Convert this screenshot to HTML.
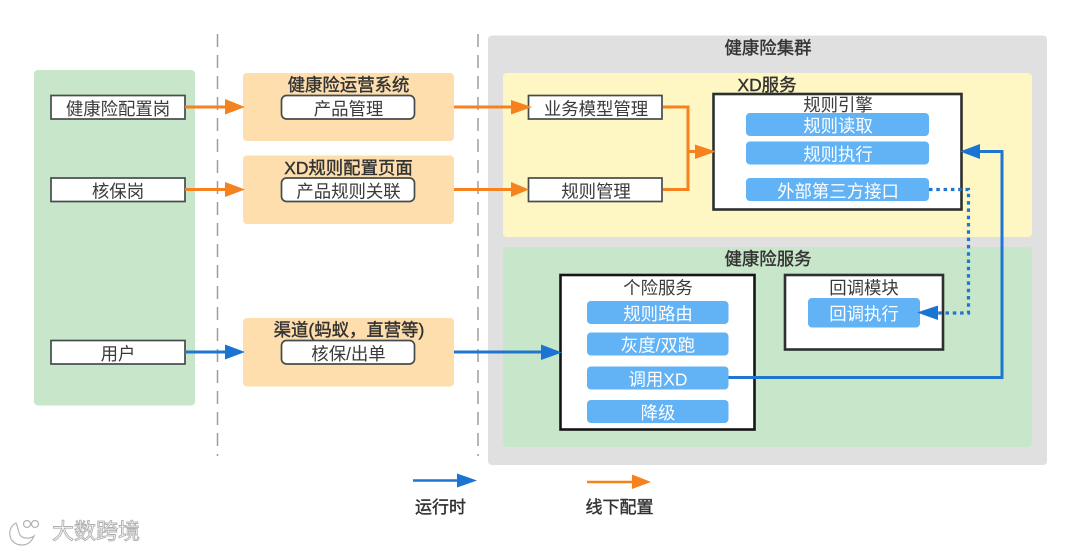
<!DOCTYPE html>
<html lang="zh">
<head>
<meta charset="utf-8">
<style>
html,body{margin:0;padding:0;background:#fff;width:1080px;height:552px;overflow:hidden}
svg{display:block}
text{font-family:"Liberation Sans","Noto Sans CJK SC",sans-serif;font-size:17.4px;text-anchor:middle;fill:#3a3a3a}
.t{fill:#333;stroke:#333;stroke-width:.4px}
.w{fill:#fff}
.box{fill:#fff;stroke:#454c4c;stroke-width:1.7}
.big{fill:#fff;stroke:#2b3030;stroke-width:2.6}
.pill{fill:#62b2f6}
.o{stroke:#f5821f;stroke-width:3;fill:none}
.b{stroke:#1e76cf;stroke-width:3;fill:none}
.oh{fill:#f5821f}
.bh{fill:#1a75d2}
</style>
</head>
<body>
<svg width="1080" height="552" viewBox="0 0 1080 552" xmlns="http://www.w3.org/2000/svg">
<rect width="1080" height="552" fill="#fff"/>

<!-- regions -->
<rect x="34" y="70" width="161" height="335.500" rx="4" fill="#c8e6c9"/>
<rect x="243" y="73" width="211" height="68" rx="4" fill="#ffdeae"/>
<rect x="243" y="155.500" width="211" height="68.500" rx="4" fill="#ffdeae"/>
<rect x="243" y="318" width="211" height="68.500" rx="4" fill="#ffdeae"/>
<rect x="488" y="35.500" width="559" height="429.500" rx="4" fill="#e0e0e0"/>
<rect x="503" y="73" width="529" height="164" rx="4" fill="#fff7c3"/>
<rect x="503" y="247" width="529" height="200" rx="4" fill="#c8e6c9"/>

<!-- dashed separators -->
<line x1="217.500" y1="34" x2="217.500" y2="456" stroke="#9e9e9e" stroke-width="1.500" stroke-dasharray="13 8"/>
<line x1="478" y1="34" x2="478" y2="456" stroke="#9e9e9e" stroke-width="1.500" stroke-dasharray="13 8"/>

<!-- left boxes -->
<rect class="box" x="51" y="95.500" width="134" height="23.500"/>
<rect class="box" x="51" y="178" width="134" height="23.500"/>
<rect class="box" x="51" y="340.500" width="134" height="23.500"/>
<text x="118" y="115">健康险配置岗</text>
<text x="118" y="197.500">核保岗</text>
<text x="118" y="360">用户</text>

<!-- middle boxes -->
<rect class="box" x="281.500" y="95.500" width="133" height="23.500" rx="5"/>
<rect class="box" x="281.500" y="178" width="133" height="23.500" rx="5"/>
<rect class="box" x="281.500" y="340.500" width="133" height="23.500" rx="5"/>
<text class="t" x="348.500" y="91">健康险运营系统</text>
<text x="348.500" y="115">产品管理</text>
<text class="t" x="348.500" y="174">XD规则配置页面</text>
<text x="348.500" y="197.500">产品规则关联</text>
<text class="t" x="349" y="336">渠道(蚂蚁，直营等)</text>
<text x="348.500" y="360">核保/出单</text>

<!-- cluster titles -->
<text class="t" x="768" y="54">健康险集群</text>
<text class="t" x="767" y="91">XD服务</text>
<text class="t" x="768" y="265">健康险服务</text>

<!-- XD boxes -->
<rect class="box" x="528.500" y="95.500" width="133.500" height="23.500"/>
<rect class="box" x="528.500" y="178" width="133.500" height="23.500"/>
<text x="596" y="115">业务模型管理</text>
<text x="596" y="197.500">规则管理</text>

<!-- rule engine -->
<rect class="big" x="713.500" y="94" width="248" height="115.500"/>
<text x="838" y="111">规则引擎</text>
<rect class="pill" x="746" y="113" width="183" height="23" rx="4"/>
<rect class="pill" x="746" y="141.500" width="183" height="23" rx="4"/>
<rect class="pill" x="746" y="178" width="183" height="23" rx="4"/>
<text class="w" x="838" y="132">规则读取</text>
<text class="w" x="838" y="160.500">规则执行</text>
<text class="w" x="838" y="197.500">外部第三方接口</text>

<!-- personal service -->
<rect class="big" x="560.500" y="275" width="194" height="154.500" style="stroke:#151515"/>
<text x="658" y="294">个险服务</text>
<rect class="pill" x="587" y="301" width="141.500" height="23" rx="4"/>
<rect class="pill" x="587" y="332.500" width="141.500" height="23" rx="4"/>
<rect class="pill" x="587" y="366.500" width="141.500" height="23" rx="4"/>
<rect class="pill" x="587" y="400" width="141.500" height="23" rx="4"/>
<text class="w" x="658" y="320">规则路由</text>
<text class="w" x="658" y="351.500">灰度/双跑</text>
<text class="w" x="658" y="385.500">调用XD</text>
<text class="w" x="658" y="419">降级</text>

<!-- callback -->
<rect class="big" x="785" y="275" width="158" height="74.500"/>
<text x="864" y="294">回调模块</text>
<rect class="pill" x="808" y="298" width="112" height="29.500" rx="4"/>
<text class="w" x="864" y="320">回调执行</text>

<!-- orange connectors -->
<path class="o" d="M185 107H227"/>
<path class="oh" d="M225 99L245 107L225 114.500Z"/>
<path class="o" d="M185 189.500H227"/>
<path class="oh" d="M225 182L245 189.500L225 197Z"/>
<path class="o" d="M454 107H512"/>
<path class="oh" d="M511 100L532 107L511 114.500Z"/>
<path class="o" d="M454 189.500H512"/>
<path class="oh" d="M511 182L529 189.500L511 197Z"/>
<path class="o" d="M663 107H688V189.500H663M688 151.500H697"/>
<path class="oh" d="M695 144.500L716 151.500L695 159Z"/>

<!-- blue connectors -->
<path class="b" d="M185 352H227"/>
<path class="bh" d="M225 344.500L245 352L225 359.500Z"/>
<path class="b" d="M454 352H544"/>
<path class="bh" d="M541 344.500L562 352.500L541 360Z"/>
<path class="b" d="M728.500 377.500H1002V151.500H978"/>
<path class="bh" d="M980 144L960 151.500L980 159Z"/>
<path d="M929 189.500H968.500V313H936" fill="none" stroke="#1e76cf" stroke-width="3.200" stroke-dasharray="3.500 3.800"/>
<path class="bh" d="M938 305.500L917 312.500L938 320Z"/>

<!-- legend -->
<path d="M413 480.500H458" stroke="#1e76cf" stroke-width="2.500" fill="none"/>
<path class="bh" d="M457 473.500L477 480.500L457 487.500Z"/>
<path d="M587 482H633" stroke="#f5821f" stroke-width="2.500" fill="none"/>
<path class="oh" d="M632 474.500L651 482L632 489Z"/>
<text class="t" x="440.500" y="513" style="font-size:17px">运行时</text>
<text class="t" x="619.500" y="513" style="font-size:17px">线下配置</text>

<!-- watermark -->
<g>
<path d="M16 523C6 528 8 545 22 545C28 545 32 541 34 536C30 539 23 539 20 535C18 531 18 527 16 523Z" fill="#fff" stroke="#b5b5b5" stroke-width="1.200"/>
<circle cx="27" cy="524" r="3.500" fill="#fff" stroke="#b5b5b5" stroke-width="1.300"/>
<circle cx="35" cy="524" r="3.500" fill="#fff" stroke="#b5b5b5" stroke-width="1.300"/>
<text x="96" y="539" style="font-size:22px;fill:#fff;stroke:#b0b0b0;stroke-width:.9px">大数跨境</text>
</g>
</svg>
</body>
</html>
